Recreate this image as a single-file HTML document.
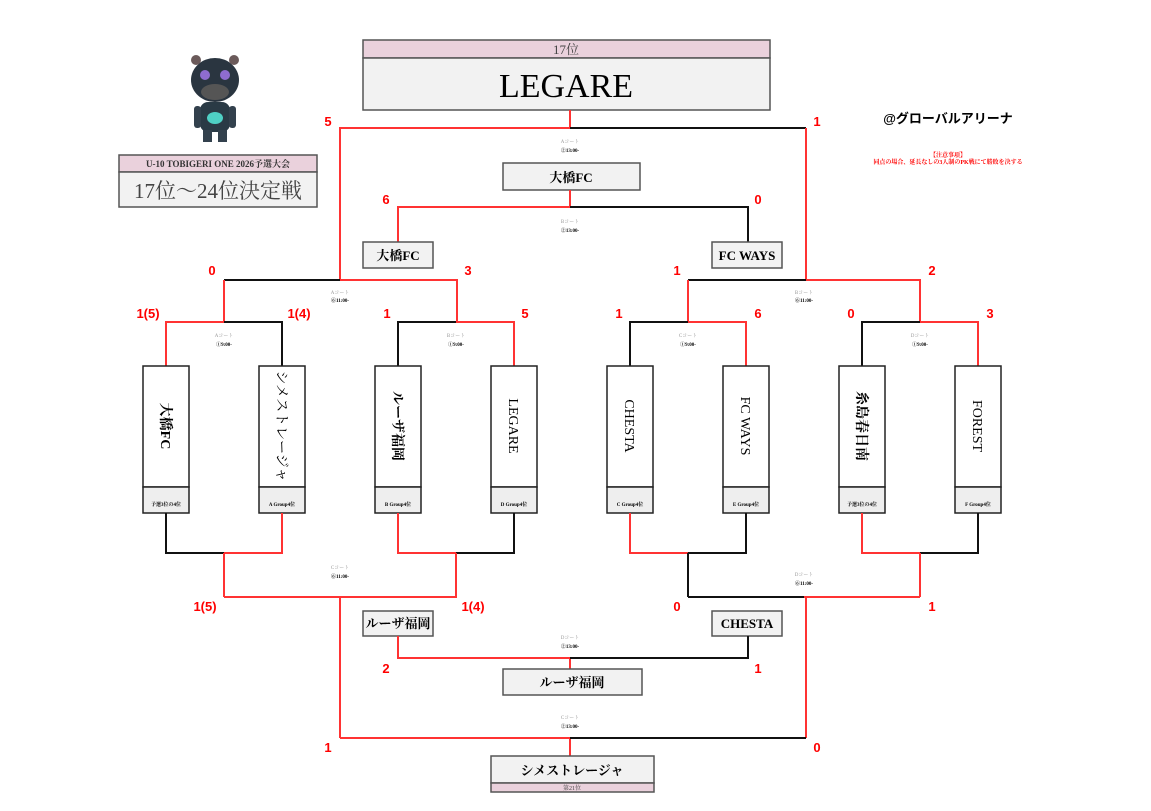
<!DOCTYPE html>
<html><head><meta charset="utf-8"><style>
html,body{margin:0;padding:0;background:#fff;}
svg{display:block;font-family:"Liberation Serif","Noto Serif CJK SC","Noto Sans CJK JP",serif;}
.s{fill:#f00;font-size:13px;font-weight:bold;text-anchor:middle;font-family:"Liberation Sans",sans-serif;}
.c1{fill:#999;font-size:5px;text-anchor:middle;}
.c2{fill:#000;font-size:5px;font-weight:bold;text-anchor:middle;}
.r{stroke:#f33;stroke-width:2;fill:none;}
.k{stroke:#111;stroke-width:2;fill:none;}
.bx{fill:#f2f2f2;stroke:#555;stroke-width:1.5;}
.vb{fill:#fff;stroke:#222;stroke-width:1.5;}
.ft{fill:#eee;stroke:#222;stroke-width:1.5;}
.pk{fill:#ead1dc;stroke:#555;stroke-width:1.5;}
.n{font-size:13px;font-weight:bold;text-anchor:middle;}
.ff{font-size:5px;font-weight:bold;text-anchor:middle;}
.vt{font-size:14px;text-anchor:middle;}
</style></head><body>
<svg width="1151" height="811" viewBox="0 0 1151 811" xmlns="http://www.w3.org/2000/svg">
<!-- mascot -->
<g>
<ellipse cx="215" cy="80" rx="24" ry="22" fill="#2a3540"/>
<circle cx="196" cy="60" r="5" fill="#6b5a5a"/><circle cx="234" cy="60" r="5" fill="#6b5a5a"/>
<circle cx="205" cy="75" r="5" fill="#8e6ccf"/><circle cx="225" cy="75" r="5" fill="#8e6ccf"/>
<ellipse cx="215" cy="92" rx="14" ry="8" fill="#555"/>
<rect x="200" y="102" width="30" height="30" rx="8" fill="#2a3a45"/>
<ellipse cx="215" cy="118" rx="8" ry="6" fill="#4fd1c5"/>
<rect x="194" y="106" width="7" height="22" rx="3" fill="#33414d"/><rect x="229" y="106" width="7" height="22" rx="3" fill="#33414d"/>
<rect x="203" y="130" width="9" height="12" fill="#33414d"/><rect x="218" y="130" width="9" height="12" fill="#33414d"/>
</g>
<!-- title box -->
<rect x="119" y="155" width="198" height="17" class="pk"/>
<rect x="119" y="172" width="198" height="35" class="bx"/>
<text x="218" y="167" font-size="9" font-weight="bold" text-anchor="middle" fill="#333">U-10 TOBIGERI ONE 2026予選大会</text>
<text x="218" y="198" font-size="21" text-anchor="middle" fill="#444">17位～24位決定戦</text>
<text x="948" y="123" font-size="13" font-weight="bold" text-anchor="middle" font-family="Liberation Sans,Noto Sans CJK JP,sans-serif">@グローバルアリーナ</text>
<text x="948" y="157" font-size="6" font-weight="bold" text-anchor="middle" fill="#f00">【注意事項】</text>
<text x="948" y="164" font-size="6" font-weight="bold" text-anchor="middle" fill="#f00">同点の場合、延長なしの3人制のPK戦にて勝敗を決する</text>
<!-- top winner box -->
<rect x="363" y="40" width="407" height="18" class="pk"/>
<rect x="363" y="58" width="407" height="52" class="bx"/>
<text x="566" y="54" font-size="13" text-anchor="middle" fill="#444">17位</text>
<text x="566" y="97" font-size="34" text-anchor="middle">LEGARE</text>
<!-- top lines -->
<path class="r" d="M570 110V128H340V280"/>
<path class="k" d="M570 128H806"/>
<path class="r" d="M806 128V280"/>
<text class="s" x="328" y="126">5</text><text class="s" x="817" y="126">1</text>
<text class="c1" x="570" y="143">Aコート</text><text class="c2" x="570" y="152">②13:00-</text>
<rect x="503" y="163" width="137" height="27" class="bx"/><text class="n" x="571" y="182">大橋FC</text>
<path class="r" d="M570 190V207H398V242"/><path class="k" d="M570 207H748V242"/>
<text class="s" x="386" y="204">6</text><text class="s" x="758" y="204">0</text>
<text class="c1" x="570" y="223">Bコート</text><text class="c2" x="570" y="232">②13:00-</text>
<rect x="363" y="242" width="70" height="26" class="bx"/><text class="n" x="398" y="260">大橋FC</text>
<rect x="712" y="242" width="70" height="26" class="bx"/><text class="n" x="747" y="260">FC WAYS</text>
<!-- round 2 top -->
<path class="k" d="M224 280H340"/><path class="r" d="M340 280H457V322"/>
<path class="r" d="M224 280V322"/>
<path class="k" d="M688 280H806"/><path class="r" d="M806 280H920V322"/>
<path class="r" d="M688 280V322"/>
<text class="s" x="212" y="275">0</text><text class="s" x="468" y="275">3</text>
<text class="s" x="677" y="275">1</text><text class="s" x="932" y="275">2</text>
<text class="c1" x="340" y="294">Aコート</text><text class="c2" x="340" y="302">⑥11:00-</text>
<text class="c1" x="804" y="294">Bコート</text><text class="c2" x="804" y="302">⑥11:00-</text>
<!-- round 1 top -->
<path class="r" d="M166 366V322H224"/><path class="k" d="M224 322H282V366"/>
<path class="k" d="M398 366V322H456"/><path class="r" d="M456 322H514V366"/>
<path class="k" d="M630 366V322H688"/><path class="r" d="M688 322H746V366"/>
<path class="k" d="M862 366V322H920"/><path class="r" d="M920 322H978V366"/>
<text class="s" x="148" y="318">1(5)</text><text class="s" x="299" y="318">1(4)</text>
<text class="s" x="387" y="318">1</text><text class="s" x="525" y="318">5</text>
<text class="s" x="619" y="318">1</text><text class="s" x="758" y="318">6</text>
<text class="s" x="851" y="318">0</text><text class="s" x="990" y="318">3</text>
<text class="c1" x="224" y="337">Aコート</text><text class="c2" x="224" y="346">①9:00-</text>
<text class="c1" x="456" y="337">Bコート</text><text class="c2" x="456" y="346">①9:00-</text>
<text class="c1" x="688" y="337">Cコート</text><text class="c2" x="688" y="346">①9:00-</text>
<text class="c1" x="920" y="337">Dコート</text><text class="c2" x="920" y="346">①9:00-</text>
<!-- team boxes -->
<g>
<rect x="143" y="366" width="46" height="121" class="vb"/><rect x="143" y="487" width="46" height="26" class="ft"/>
<rect x="259" y="366" width="46" height="121" class="vb"/><rect x="259" y="487" width="46" height="26" class="ft"/>
<rect x="375" y="366" width="46" height="121" class="vb"/><rect x="375" y="487" width="46" height="26" class="ft"/>
<rect x="491" y="366" width="46" height="121" class="vb"/><rect x="491" y="487" width="46" height="26" class="ft"/>
<rect x="607" y="366" width="46" height="121" class="vb"/><rect x="607" y="487" width="46" height="26" class="ft"/>
<rect x="723" y="366" width="46" height="121" class="vb"/><rect x="723" y="487" width="46" height="26" class="ft"/>
<rect x="839" y="366" width="46" height="121" class="vb"/><rect x="839" y="487" width="46" height="26" class="ft"/>
<rect x="955" y="366" width="46" height="121" class="vb"/><rect x="955" y="487" width="46" height="26" class="ft"/>
</g>
<text class="vt" transform="translate(161,426) rotate(90)" font-weight="bold">大橋FC</text>
<text class="vt" transform="translate(277,426) rotate(90)">シメストレージャ</text>
<text class="vt" transform="translate(393,426) rotate(90)" font-weight="bold">ルーザ福岡</text>
<text class="vt" transform="translate(509,426) rotate(90)">LEGARE</text>
<text class="vt" transform="translate(625,426) rotate(90)">CHESTA</text>
<text class="vt" transform="translate(741,426) rotate(90)">FC WAYS</text>
<text class="vt" transform="translate(857,426) rotate(90)" font-weight="bold">糸島春日南</text>
<text class="vt" transform="translate(973,426) rotate(90)">FOREST</text>
<text class="ff" x="166" y="506">予選3位の4位</text>
<text class="ff" x="282" y="506">A Group4位</text>
<text class="ff" x="398" y="506">B Group4位</text>
<text class="ff" x="514" y="506">D Group4位</text>
<text class="ff" x="630" y="506">C Group4位</text>
<text class="ff" x="746" y="506">E Group4位</text>
<text class="ff" x="862" y="506">予選3位の4位</text>
<text class="ff" x="978" y="506">F Group4位</text>
<!-- bottom round 1 -->
<path class="k" d="M166 513V553H224"/><path class="r" d="M224 553H282V513"/><path class="r" d="M224 553V597"/>
<path class="r" d="M398 513V553H456"/><path class="k" d="M456 553H514V513"/><path class="r" d="M456 553V597"/>
<path class="r" d="M630 513V553H688"/><path class="k" d="M688 553H746V513"/><path class="k" d="M688 553V597"/>
<path class="r" d="M862 513V553H920"/><path class="k" d="M920 553H978V513"/><path class="r" d="M920 553V597"/>
<text class="c1" x="340" y="569">Cコート</text><text class="c2" x="340" y="578">⑥11:00-</text>
<text class="c1" x="804" y="576">Dコート</text><text class="c2" x="804" y="585">⑥11:00-</text>
<!-- bottom round 2 -->
<path class="r" d="M224 597H457"/><path class="r" d="M340 597V738"/>
<path class="k" d="M688 597H804"/><path class="r" d="M804 597H920"/><path class="r" d="M806 597V738"/>
<path class="k" d="M340 597H398V611" style="display:none"/>
<text class="s" x="205" y="611">1(5)</text><text class="s" x="473" y="611">1(4)</text>
<text class="s" x="677" y="611">0</text><text class="s" x="932" y="611">1</text>
<rect x="363" y="611" width="70" height="25" class="bx"/><text class="n" x="398" y="628">ルーザ福岡</text>
<rect x="712" y="611" width="70" height="25" class="bx"/><text class="n" x="747" y="628">CHESTA</text>
<path class="r" d="M398 636V658H570V669"/><path class="k" d="M570 658H748V636"/>
<text class="s" x="386" y="673">2</text><text class="s" x="758" y="673">1</text>
<text class="c1" x="570" y="639">Dコート</text><text class="c2" x="570" y="648">②13:00-</text>
<rect x="503" y="669" width="139" height="26" class="bx"/><text class="n" x="572" y="687">ルーザ福岡</text>
<text class="c1" x="570" y="719">Cコート</text><text class="c2" x="570" y="728">②13:00-</text>
<path class="r" d="M340 738H570V756"/><path class="k" d="M570 738H806"/>
<text class="s" x="328" y="752">1</text><text class="s" x="817" y="752">0</text>
<rect x="491" y="756" width="163" height="27" class="bx"/><rect x="491" y="783" width="163" height="9" class="pk"/>
<text class="n" x="572" y="775">シメストレージャ</text>
<text x="572" y="790" font-size="6" text-anchor="middle" fill="#444">第21位</text>
</svg>
</body></html>
